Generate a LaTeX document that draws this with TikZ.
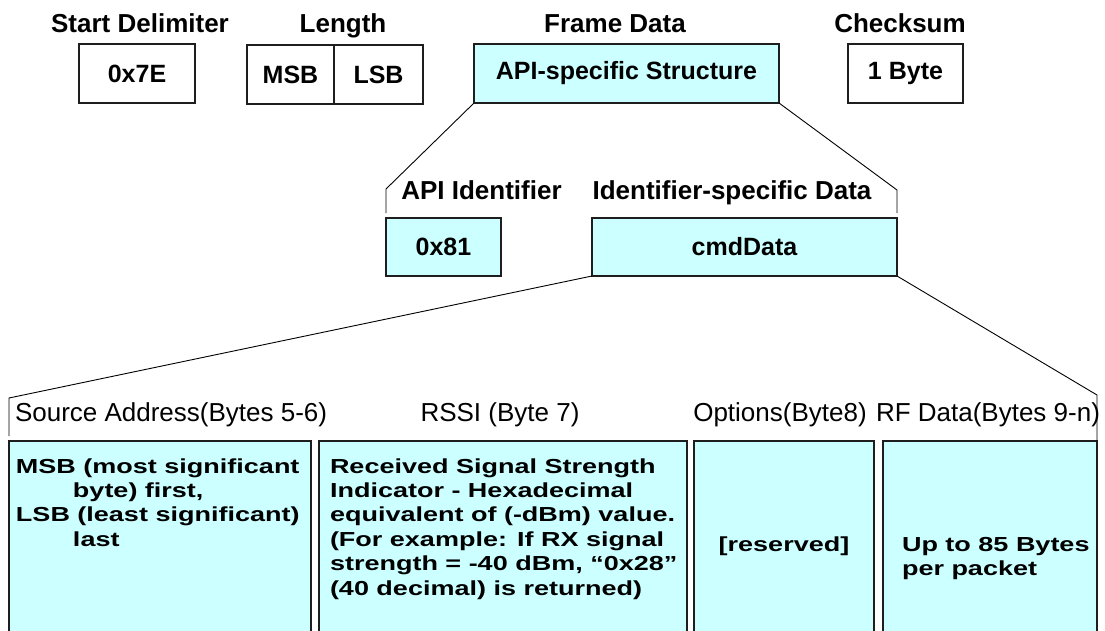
\documentclass[tikz,border=0pt]{standalone}
\usepackage{fontspec}
\setmainfont{Liberation Sans}
\newfontfamily\widefont[FakeStretch=1.33]{Liberation Sans}
\definecolor{cyanfill}{RGB}{204,255,255}
\definecolor{edge}{RGB}{30,30,30}
\newcommand{\firstln}{\rule{0pt}{15.5pt}}
\begin{document}
\begin{tikzpicture}[x=1pt,y=-1pt,
  every node/.style={inner sep=0pt, outer sep=0pt},
  headlbl/.style={font=\fontsize{26}{30}\selectfont\bfseries, anchor=base},
  fieldbox/.style={draw=edge, line width=1.6pt, rectangle, font=\fontsize{25}{30}\selectfont\bfseries},
  cyanbox/.style={fieldbox, fill=cyanfill},
  sublbl/.style={font=\fontsize{26}{30}\selectfont, anchor=base},
  bodytxt/.style={font=\widefont\bfseries\fontsize{20.3}{24.4}\selectfont, align=left, anchor=north west},
  link/.style={line width=0.9pt, black}
]
\useasboundingbox[fill=white] (0,0) rectangle (1105,630);

% top row labels
\node[headlbl] (lsd) at (140,32) {Start Delimiter};
\node[headlbl] (llen) at (343,32) {Length};
\node[headlbl] (lfd) at (615,32) {Frame Data};
\node[headlbl] (lcs) at (900,32) {Checksum};

% top row boxes
\node[fieldbox, minimum width=116pt, minimum height=59pt] (sd) at (137,73.5) {0x7E};
\node[fieldbox, minimum width=87pt, minimum height=59pt] (msb) at (290.5,74.5) {MSB};
\node[fieldbox, minimum width=89pt, minimum height=59pt] (lsb) at (378.5,74.5) {LSB};
\node[cyanbox, minimum width=305pt, minimum height=59pt] (frame) at (626.5,73.5) {API-specific Structure};
\node[fieldbox, minimum width=115pt, minimum height=59pt] (cs) at (905.5,73.5) {1 Byte};

% middle labels
\node[headlbl] (lapi) at (481.5,199) {API Identifier};
\node[headlbl] (lisd) at (732,199) {Identifier-specific Data};

% middle boxes
\node[cyanbox, minimum width=115pt, minimum height=58pt] (api) at (443.5,247) {0x81};
\node[cyanbox, minimum width=305pt, minimum height=58pt] (cmd) at (744.5,247) {cmdData};

% brackets from frame data
\coordinate (apiTop) at (386,189);
\coordinate (apiBot) at (386,213);
\coordinate (isdTop) at (897,190);
\coordinate (isdBot) at (897,213);
\draw[link] (frame.south west) -- (apiTop) -- (apiBot);
\draw[link] (frame.south east) -- (isdTop) -- (isdBot);

% bottom labels
\node[sublbl, anchor=base west] (lsrc) at (15,421) {Source Address(Bytes 5-6)};
\node[sublbl] (lrssi) at (500,421) {RSSI (Byte 7)};
\node[sublbl] (lopt) at (780,421) {Options(Byte8)};
\node[sublbl] (lrf) at (988,421) {RF Data(Bytes 9-n)};

% bottom boxes (run past the lower edge)
\node[cyanbox, minimum width=302pt, minimum height=200pt, anchor=north west] (src) at (9,441) {};
\node[cyanbox, minimum width=368pt, minimum height=200pt, anchor=north west] (rssi) at (319,441) {};
\node[cyanbox, minimum width=180pt, minimum height=200pt, anchor=north west] (opt) at (694,441) {};
\node[cyanbox, minimum width=214pt, minimum height=200pt, anchor=north west] (rf) at (883,441) {};

% brackets from cmdData
\coordinate (srcTop) at (9,398);
\coordinate (srcBot) at (9,436);
\coordinate (rfTop) at (1097,395);
\coordinate (rfBot) at (1097,441);
\draw[link] (cmd.south west) -- (srcTop) -- (srcBot);
\draw[link] (cmd.south east) -- (rfTop) -- (rfBot);

% bottom box texts (first baseline 15.5pt below the anchor)
\node[bodytxt] (tsrc) at (16,457.5) {\firstln MSB (most significant\\\hspace*{57pt}byte) first,\\LSB (least significant)\\\hspace*{57pt}last};
\node[bodytxt] (trssi) at (330,457.5) {\firstln Received Signal Strength\\Indicator - Hexadecimal\\equivalent of (-dBm) value.\\(For example: If RX signal\\strength = -40 dBm, “0x28”\\(40 decimal) is returned)};
\node[bodytxt, anchor=base] (topt) at (784,551) {[reserved]};
\node[bodytxt] (trf) at (902,535.5) {\firstln Up to 85 Bytes\\per packet};
\end{tikzpicture}
\end{document}
